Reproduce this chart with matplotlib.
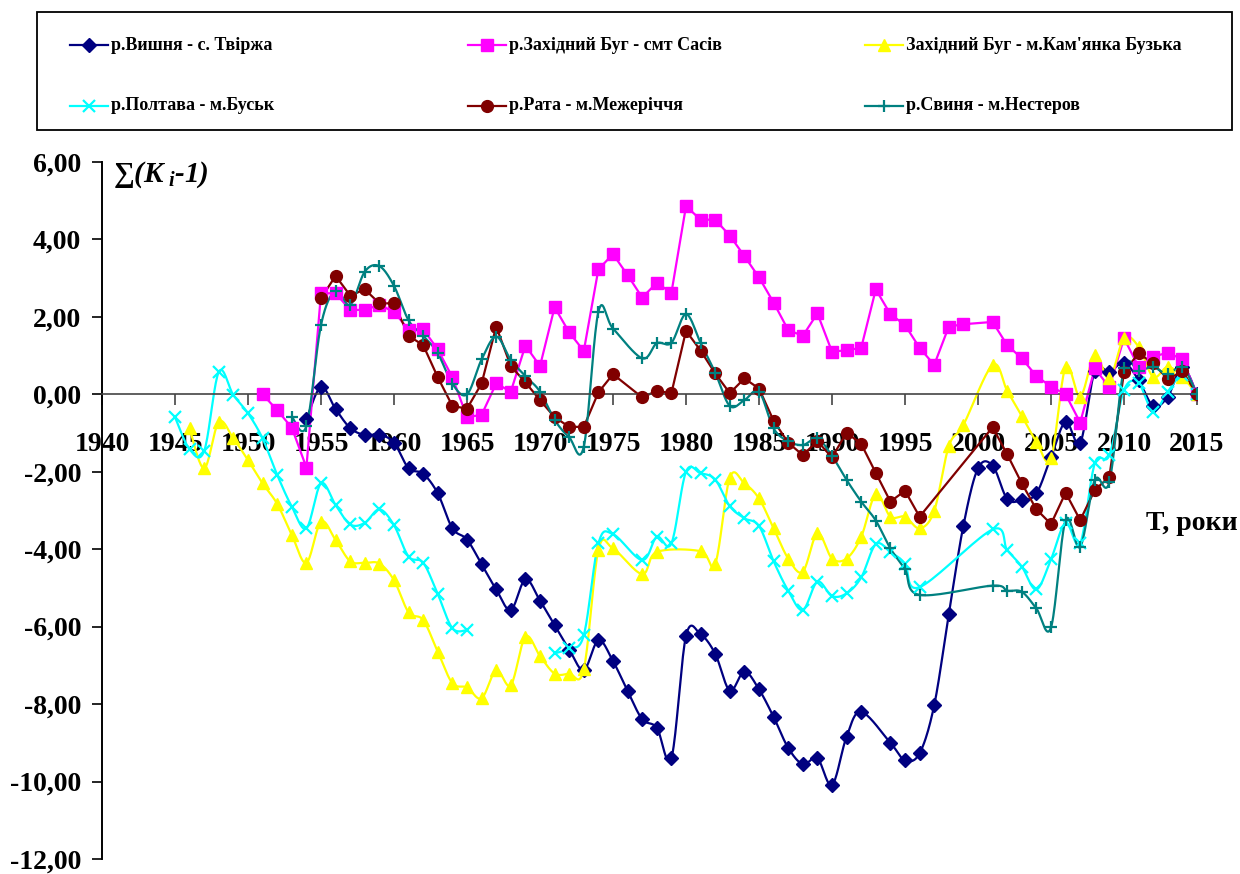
import numpy as np
import matplotlib
matplotlib.use('Agg')
import matplotlib.pyplot as plt
from matplotlib.lines import Line2D
from matplotlib.patches import Rectangle

plt.rcParams['font.family'] = ['Liberation Serif', 'DejaVu Serif']
plt.rcParams['font.weight'] = 'bold'
plt.rcParams['mathtext.fontset'] = 'custom'
plt.rcParams['mathtext.it'] = 'Liberation Serif:bold:italic'
plt.rcParams['mathtext.rm'] = 'Liberation Serif:bold'

nan = np.nan

# --- cumulative deviation curves sum(K_i - 1) by station ---
years_vyshnia = list(range(1954, 1993)) + list(range(1994, 2016))
vals_vyshnia = [-0.64, 0.19, -0.38, -0.87, -1.05, -1.04, -1.25, -1.91, -2.05, -2.56,
                -3.46, -3.75, -4.39, -5.04, -5.57, -4.78, -5.33, -5.96, -6.59, -7.12,
                -6.35, -6.89, -7.66, -8.39, -8.61, -9.39, -6.24, -6.20, -6.70, -7.65,
                -7.16, -7.62, -8.33, -9.13, -9.55, -9.40, -10.09, -8.84, -8.20,
                -9.00, -9.45, -9.27, -8.03, -5.68, -3.39, -1.91, -1.84, -2.70, -2.73,
                -2.56, -1.62, -0.71, -1.25, 0.60, 0.58, 0.82, 0.37, -0.30, -0.06,
                0.71, 0.00]

years_sasiv = list(range(1951, 2000)) + list(range(2001, 2016))
vals_sasiv = [0.00, -0.41, -0.86, -1.89, 2.61, 2.61, 2.18, 2.18, 2.31, 2.13,
              1.67, 1.68, 1.16, 0.44, -0.59, -0.53, 0.28, 0.07, 1.26, 0.73,
              2.25, 1.60, 1.12, 3.23, 3.62, 3.08, 2.50, 2.88, 2.62, 4.86,
              4.51, 4.51, 4.10, 3.57, 3.02, 2.37, 1.66, 1.51, 2.09, 1.10,
              1.14, 1.20, 2.71, 2.07, 1.79, 1.20, 0.76, 1.75, 1.81,
              1.87, 1.27, 0.93, 0.47, 0.20, 0.00, -0.73, 0.67, 0.18, 1.45,
              0.71, 0.97, 1.08, 0.90, 0.00]

years_kamianka = (list(range(1946, 1976)) + [1977, 1978] + list(range(1981, 2000))
                  + list(range(2001, 2016)))
vals_kamianka = [-0.88, -1.91, -0.71, -1.14, -1.70, -2.30, -2.83, -3.63, -4.35, -3.29,
                 -3.76, -4.31, -4.35, -4.37, -4.80, -5.63, -5.83, -6.65, -7.46, -7.57,
                 -7.85, -7.12, -7.51, -6.26, -6.76, -7.21, -7.21, -7.10, -4.02, -3.98,
                 -4.64, -4.07,
                 -4.05, -4.38, -2.15, -2.30, -2.69, -3.46, -4.24, -4.58, -3.59, -4.24,
                 -4.24, -3.68, -2.58, -3.16, -3.16, -3.46, -3.01, -1.34, -0.79,
                 0.76, 0.09, -0.56, -1.22, -1.65, 0.71, -0.06, 1.01, 0.41, 1.45,
                 1.23, 0.45, 0.71, 0.45, 0.00]

# 1966-1970 missing: the line is broken there
years_poltava = (list(range(1945, 1967)) + list(range(1971, 1976))
                 + list(range(1977, 1997)) + list(range(2001, 2016)))
vals_poltava = [-0.59, -1.42, -1.46, 0.58, -0.02, -0.49, -1.14, -2.08, -2.90, -3.46,
                -2.30, -2.86, -3.36, -3.32, -2.97, -3.38, -4.19, -4.35, -5.16, -6.04,
                -6.09, nan,
                -6.69, -6.56, -6.22, -3.85, -3.61,
                -4.28, -3.68, -3.85, -2.00, -2.04, -2.20, -2.89, -3.20, -3.40, -4.31,
                -5.07, -5.57, -4.84, -5.21, -5.14, -4.73, -3.87, -4.07, -4.37, -4.98,
                -3.49, -4.02, -4.45, -5.04, -4.26, -3.32, -3.85, -1.78, -1.57, 0.11,
                0.28, -0.45, 0.07, 0.50, 0.00]

years_rata = list(range(1955, 1976)) + list(range(1977, 1997)) + list(range(2001, 2016))
vals_rata = [2.48, 3.06, 2.55, 2.71, 2.35, 2.35, 1.51, 1.27, 0.44, -0.30,
             -0.37, 0.28, 1.75, 0.73, 0.31, -0.15, -0.59, -0.84, -0.84, 0.05,
             0.52,
             -0.08, 0.09, 0.03, 1.64, 1.13, 0.54, 0.03, 0.41, 0.15, -0.68,
             -1.25, -1.57, -1.21, -1.63, -0.99, -1.28, -2.03, -2.77, -2.49, -3.16,
             -0.85, -1.55, -2.30, -2.97, -3.35, -2.54, -3.25, -2.47, -2.13, 0.58,
             1.06, 0.80, 0.39, 0.60, 0.00]

years_svynia = list(range(1953, 1976)) + list(range(1977, 1997)) + list(range(2001, 2016))
vals_svynia = [-0.58, -0.82, 1.79, 2.68, 2.31, 3.17, 3.31, 2.80, 1.91, 1.51,
               1.06, 0.27, 0.00, 0.90, 1.49, 0.89, 0.47, 0.07, -0.66, -1.11,
               -1.35, 2.13, 1.70,
               0.93, 1.32, 1.33, 2.07, 1.33, 0.56, -0.30, -0.15, 0.07, -0.88,
               -1.21, -1.31, -1.14, -1.59, -2.21, -2.77, -3.26, -3.98, -4.52, -5.18,
               -4.94, -5.07, -5.10, -5.53, -6.02, -3.25, -3.94, -2.21, -2.26, 0.67,
               0.61, 0.70, 0.52, 0.71, 0.00]

series = [
    ('р.Вишня - с. Твіржа', years_vyshnia, vals_vyshnia, '#000080', 'D', 7, True),
    ('р.Західний Буг - смт Сасів', years_sasiv, vals_sasiv, '#FF00FF', 's', 8.5, False),
    ("Західний Буг - м.Кам'янка Бузька", years_kamianka, vals_kamianka, '#FFFF00', '^', 9, True),
    ('р.Полтава - м.Буськ', years_poltava, vals_poltava, '#00FFFF', 'x', 8, True),
    ('р.Рата - м.Межеріччя', years_rata, vals_rata, '#800000', 'o', 8.5, False),
    ('р.Свиня - м.Нестеров', years_svynia, vals_svynia, '#008080', '+', 9, True),
]


def runs(x, y):
    x = np.asarray(x, float)
    y = np.asarray(y, float)
    idx = np.flatnonzero(np.isfinite(y))
    groups = np.split(idx, np.flatnonzero(np.diff(idx) > 1) + 1)
    return [(x[g], y[g]) for g in groups if len(g)]


def bezier(x, y, n=20):
    """Smoothed line through the points (cubic Bezier, spreadsheet style)."""
    if len(x) < 3:
        return x, y
    px = np.concatenate([[x[0]], x, [x[-1]]])
    py = np.concatenate([[y[0]], y, [y[-1]]])
    pts = np.column_stack([px, py])
    t = np.linspace(0, 1, n)[:, None]
    out = []
    for i in range(len(x) - 1):
        p0, p1, p2, p3 = pts[i], pts[i + 1], pts[i + 2], pts[i + 3]
        c1 = p1 + (p2 - p0) / 6
        c2 = p2 - (p3 - p1) / 6
        seg = ((1 - t) ** 3 * p1 + 3 * (1 - t) ** 2 * t * c1
               + 3 * (1 - t) * t ** 2 * c2 + t ** 3 * p2)
        out.append(seg if i == 0 else seg[1:])
    out = np.vstack(out)
    return out[:, 0], out[:, 1]


fig = plt.figure(figsize=(12.4, 8.74), dpi=100)
W, H = 1240, 874
ax = fig.add_axes([102 / W, 15 / H, 1095 / W, 697 / H])

for name, yrs, vals, col, mk, ms, smoothed in series:
    mew = 1.6 if mk in ('x', '+') else 1.0
    for xs, ys in runs(yrs, vals):
        lx, ly = bezier(xs, ys) if smoothed else (xs, ys)
        ax.plot(lx, ly, color=col, lw=1.6, zorder=2)
        ax.plot(xs, ys, ls='none', marker=mk, ms=ms, color=col, mec=col,
                mew=mew, zorder=3)

ax.set_xlim(1940, 2015)
ax.set_ylim(-12, 6)
for s in ('top', 'right'):
    ax.spines[s].set_visible(False)
ax.spines['bottom'].set_position(('data', 0))
ax.spines['bottom'].set_color('#444444')
ax.spines['bottom'].set_linewidth(1.2)
ax.spines['left'].set_linewidth(1.4)

xt = list(range(1940, 2016, 5))
ax.set_xticks(xt)
ax.set_xticklabels([str(v) for v in xt], fontsize=20, fontweight='bold')
ax.tick_params(axis='x', direction='out', length=8, width=1.2, pad=19, colors='#444444',
               labelcolor='black')

yt = list(range(-12, 7, 2))
ax.set_yticks(yt)
ax.set_yticklabels([f'{v:.2f}'.replace('.', ',') for v in yt], fontsize=20, fontweight='bold')
ax.tick_params(axis='y', direction='out', length=7, width=1.2, pad=8)

fig.text(113 / W, 1 - 175 / H, r'∑($K_{\ i}$-1)', fontsize=21, fontweight='bold',
         fontstyle='italic', va='center', ha='left')
fig.text(1146 / W, 1 - 523 / H, 'T, роки', fontsize=20, fontweight='bold',
         va='center', ha='left')

# legend frame and entries
fig.patches.append(Rectangle((37 / W, 1 - 130 / H), 1195 / W, 118 / H,
                             transform=fig.transFigure, fill=False,
                             edgecolor='black', lw=1.3))
cols_x = [70, 468, 865]
rows_y = [45, 106]
for k, (name, yrs, vals, col, mk, ms, smoothed) in enumerate(series):
    r, c = divmod(k, 3)
    x0 = cols_x[c]
    yy = 1 - rows_y[r] / H
    mew = 1.6 if mk in ('x', '+') else 1.0
    fig.add_artist(Line2D([x0 / W, (x0 + 19) / W, (x0 + 38) / W], [yy, yy, yy],
                          transform=fig.transFigure, color=col, lw=1.6,
                          marker=mk, ms=ms, mec=col, mew=mew, markevery=[1]))
    fig.text((x0 + 41) / W, yy, name, fontsize=13, fontweight='bold',
             va='center', ha='left')

fig.savefig('out.png', dpi=100)
